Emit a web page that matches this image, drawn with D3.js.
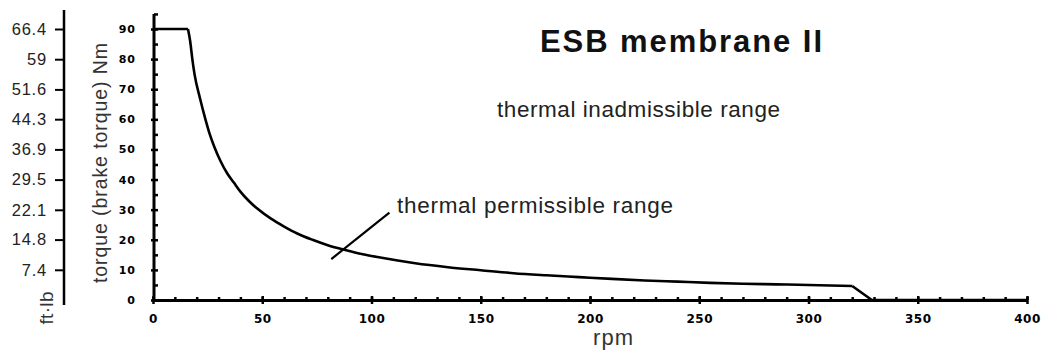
<!DOCTYPE html>
<html><head><meta charset="utf-8">
<script src="https://cdn.jsdelivr.net/npm/d3@7"></script>
<style>
html,body{margin:0;padding:0;background:#fff;}
svg{display:block;}
</style></head>
<body>
<svg id="chart" width="1042" height="352"></svg>
<script>
// ---- data ----
const rpm =    [0, 16, 17, 18, 19, 21.5, 24, 26, 28, 31, 34, 37, 40, 44, 48, 54, 60, 66, 73, 80, 88, 96, 104, 112, 120, 135, 150, 165, 180, 195, 210, 225, 240, 255, 270, 285, 300, 320, 329, 400];
const torque = [90, 90, 86, 80, 75, 67, 60, 55, 51, 46, 42, 39, 36, 32.8, 30.2, 27, 24.4, 22.1, 20, 18.2, 16.6, 15.2, 14.1, 13.1, 12.2, 10.9, 9.9, 8.9, 8.2, 7.6, 7.0, 6.5, 6.1, 5.7, 5.4, 5.2, 5.0, 4.65, 0, 0];
const xTicks = [0, 50, 100, 150, 200, 250, 300, 350, 400];
const yTicks = [0, 10, 20, 30, 40, 50, 60, 70, 80, 90];
const ftlbTicks = [7.4, 14.8, 22.1, 29.5, 36.9, 44.3, 51.6, 59, 66.4];
const pointerRpm = [81.6, 108.2];
const pointerTorque = [13.6, 29];
const title = "ESB membrane II";
const xLabel = "rpm";
const yLabel = "torque (brake torque) Nm";
const y2Label = "ft·lb";
const labelInadmissible = "thermal inadmissible range";
const labelPermissible = "thermal permissible range";

// ---- drawing ----
const svg = d3.select("#chart");
const x = d3.scaleLinear().domain([0, 400]).range([153, 1027]);
const y = d3.scaleLinear().domain([0, 90]).range([300, 29]);
const y2 = d3.scaleLinear().domain([0, 66.4]).range([300, 29]);

const tickFont = "'DejaVu Sans', sans-serif";
const textFont = "'Liberation Sans', Arial, Helvetica, sans-serif";

// x axis minor ticks
const xMinor = svg.append("g").attr("transform", `translate(0,300)`)
  .call(d3.axisBottom(x).tickValues(d3.range(0, 401, 10)).tickSize(-3).tickFormat(""));
xMinor.select(".domain").remove();
xMinor.selectAll(".tick line").attr("stroke", "#000").attr("stroke-width", 2.5);

// x axis major
const xAx = svg.append("g").attr("transform", `translate(0,300)`)
  .call(d3.axisBottom(x).tickValues(xTicks).tickSize(4).tickSizeOuter(0).tickPadding(10));
xAx.select(".domain").attr("stroke", "#000").attr("stroke-width", 3);
xAx.selectAll(".tick line").attr("stroke", "#000").attr("stroke-width", 2.5).attr("y1", -4);
xAx.selectAll(".tick text").attr("font-family", tickFont).attr("font-weight", "bold")
  .attr("font-size", 12).attr("letter-spacing", 0.5).attr("fill", "#000");

// y axis minor
const yMinor = svg.append("g").attr("transform", `translate(154,0)`)
  .call(d3.axisLeft(y).tickValues(d3.range(5, 96, 10)).tickSize(-4).tickFormat(""));
yMinor.select(".domain").remove();
yMinor.selectAll(".tick line").attr("stroke", "#000").attr("stroke-width", 2.5);

// y axis major
const yAx = svg.append("g").attr("transform", `translate(154,0)`)
  .call(d3.axisLeft(y).tickValues(yTicks).tickSize(3).tickSizeOuter(0).tickPadding(15));
yAx.select(".domain").attr("d", `M0,${y(95)}V${y(0)}`).attr("stroke", "#000").attr("stroke-width", 3);
yAx.selectAll(".tick line").attr("stroke", "#000").attr("stroke-width", 2.5).attr("x2", 4).attr("x1", -3);
yAx.selectAll(".tick text").attr("font-family", tickFont).attr("font-weight", "bold")
  .attr("font-size", 11).attr("letter-spacing", 1).attr("fill", "#000");

// ft·lb axis
const y2Ax = svg.append("g").attr("transform", `translate(64,0)`)
  .call(d3.axisLeft(y2).tickValues(ftlbTicks).tickSize(9).tickSizeOuter(0).tickPadding(8).tickFormat(d => String(d)));
y2Ax.select(".domain").attr("d", `M0,10V305`).attr("stroke", "#000").attr("stroke-width", 2.5);
y2Ax.selectAll(".tick line").attr("stroke", "#000").attr("stroke-width", 2);
y2Ax.selectAll(".tick text").attr("font-family", textFont).attr("font-size", 16.5)
  .attr("letter-spacing", 0.8).attr("fill", "#222");

// curve: smooth part up to the knee, then straight drop
const knee = 37;
const smooth = d3.line().curve(d3.curveMonotoneX).x(d => x(d[0])).y(d => y(d[1]));
const straight = d3.line().x(d => x(d[0])).y(d => y(d[1]));
const pts = rpm.map((r, i) => [r, torque[i]]);
svg.append("path").datum(pts.slice(1, knee + 1)).attr("d", smooth)
  .attr("fill", "none").attr("stroke", "#000").attr("stroke-width", 2.6);
svg.append("path").datum(pts.slice(0, 2)).attr("d", straight)
  .attr("fill", "none").attr("stroke", "#000").attr("stroke-width", 2.6);
svg.append("path").datum(pts.slice(knee)).attr("d", straight)
  .attr("fill", "none").attr("stroke", "#000").attr("stroke-width", 2.6)
  .attr("stroke-linejoin", "round");

// pointer line
svg.append("line")
  .attr("x1", x(pointerRpm[0])).attr("y1", y(pointerTorque[0]))
  .attr("x2", x(pointerRpm[1])).attr("y2", y(pointerTorque[1]))
  .attr("stroke", "#000").attr("stroke-width", 2.2);

// texts
svg.append("text").attr("x", 540).attr("y", 52).text(title)
  .attr("font-family", textFont).attr("font-weight", "bold").attr("font-size", 31)
  .attr("fill", "#111").attr("textLength", 282).attr("lengthAdjust", "spacing");

svg.append("text").attr("x", 497).attr("y", 117).text(labelInadmissible)
  .attr("font-family", textFont).attr("font-size", 22.5).attr("fill", "#222")
  .attr("textLength", 283).attr("lengthAdjust", "spacing");

svg.append("text").attr("x", 397).attr("y", 213).text(labelPermissible)
  .attr("font-family", textFont).attr("font-size", 22.5).attr("fill", "#222")
  .attr("textLength", 276).attr("lengthAdjust", "spacing");

svg.append("text").attr("x", 613).attr("y", 345).attr("text-anchor", "middle").text(xLabel)
  .attr("font-family", textFont).attr("font-size", 22).attr("fill", "#333")
  .attr("textLength", 40).attr("lengthAdjust", "spacing");

svg.append("text").attr("transform", "translate(107,163) rotate(-90)")
  .attr("text-anchor", "middle").text(yLabel)
  .attr("font-family", textFont).attr("font-size", 19.5).attr("fill", "#333")
  .attr("textLength", 240).attr("lengthAdjust", "spacing");

svg.append("text").attr("transform", "translate(53,308) rotate(-90)")
  .attr("text-anchor", "middle").text(y2Label)
  .attr("font-family", textFont).attr("font-size", 19).attr("fill", "#333")
  .attr("textLength", 33).attr("lengthAdjust", "spacing");
</script>
</body></html>
